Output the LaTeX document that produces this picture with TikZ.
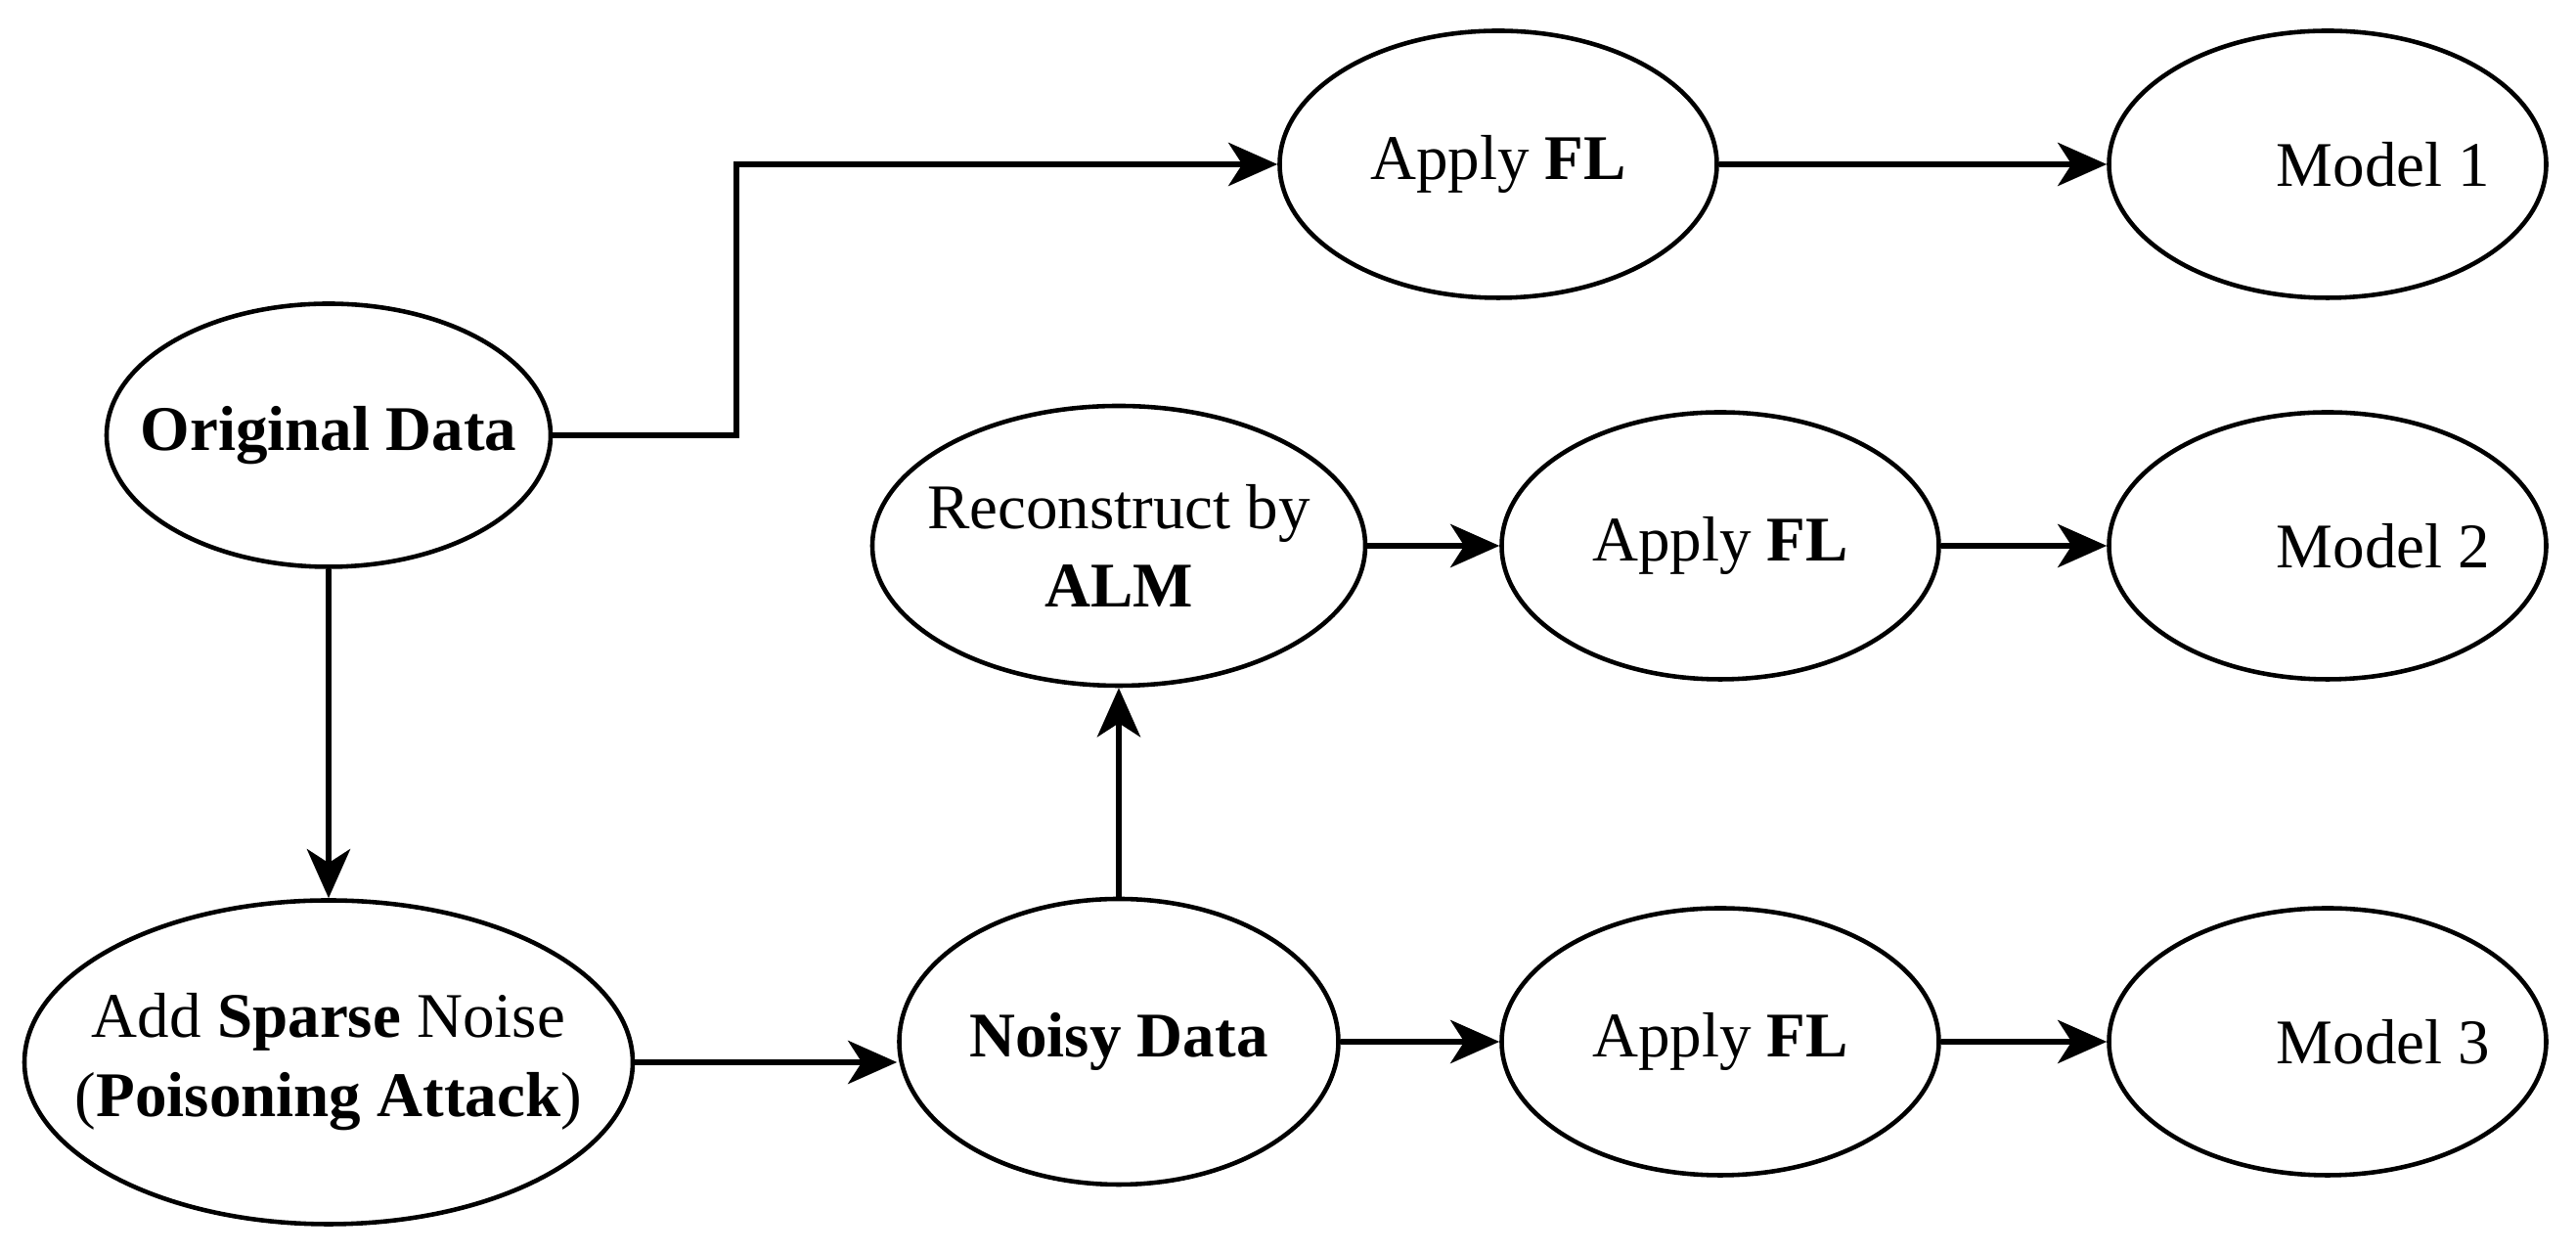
\documentclass[tikz,border=0pt]{standalone}
\usepackage{fontspec}
\setmainfont{Liberation Serif}
\usepackage{tikz}
\usetikzlibrary{arrows.meta,shapes.geometric,positioning}

\begin{document}
\begin{tikzpicture}
            \tikzstyle{every node}+=[inner sep=0pt, font=\fontsize{18.5}{23}\selectfont]
            \tikzstyle{oval}=[draw, ellipse, line width=1.3pt, inner xsep=-1cm, align=center, minimum width=4.47cm, minimum height=2.73cm]
            \tikzstyle{flow}=[line width=1.9pt, -{Stealth[length=0.5cm, width=0.44cm, inset=0.14cm]}]
            \useasboundingbox (0,0) rectangle (26.34,12.82);
            \node [oval, minimum width=4.54cm, minimum height=2.69cm] (orig) at (3.36,8.37) {\textbf{Original Data}};
            \node [oval, minimum width=6.22cm, minimum height=3.31cm] (noise) at (3.36,1.96) {Add \textbf{Sparse} Noise\\(\textbf{Poisoning Attack})};
            \node [oval, minimum width=4.49cm, minimum height=2.92cm] (noisy) at (11.44,2.17) {\textbf{Noisy Data}};
            \node [oval, minimum width=5.04cm, minimum height=2.86cm] (recon) at (11.44,7.24) {Reconstruct by\\\textbf{ALM}};
            \node [oval] (fl1) at (15.32,11.14) {Apply \textbf{FL}};
            \node [oval] (fl2) at (17.59,7.24) {Apply \textbf{FL}};
            \node [oval] (fl3) at (17.59,2.17) {Apply \textbf{FL}};
            \node [oval, label={[xshift=0.57cm]center:Model 1}] (m1) at (23.80,11.14) {};
            \node [oval, label={[xshift=0.57cm]center:Model 2}] (m2) at (23.80,7.24) {};
            \node [oval, label={[xshift=0.57cm]center:Model 3}] (m3) at (23.80,2.17) {};
            \coordinate (bend) at (7.53,11.14);
            \draw [flow] (orig.east) -| (bend) -- (fl1.west);
            \draw [flow] (orig.south) -- (noise.north);
            \draw [flow] (noise.east) -- (noise.east -| noisy.west);
            \draw [flow] (noisy.north) -- (recon.south);
            \draw [flow] (recon.east) -- (fl2.west);
            \draw [flow] (noisy.east) -- (fl3.west);
            \draw [flow] (fl1.east) -- (m1.west);
            \draw [flow] (fl2.east) -- (m2.west);
            \draw [flow] (fl3.east) -- (m3.west);
        \end{tikzpicture}
\end{document}
